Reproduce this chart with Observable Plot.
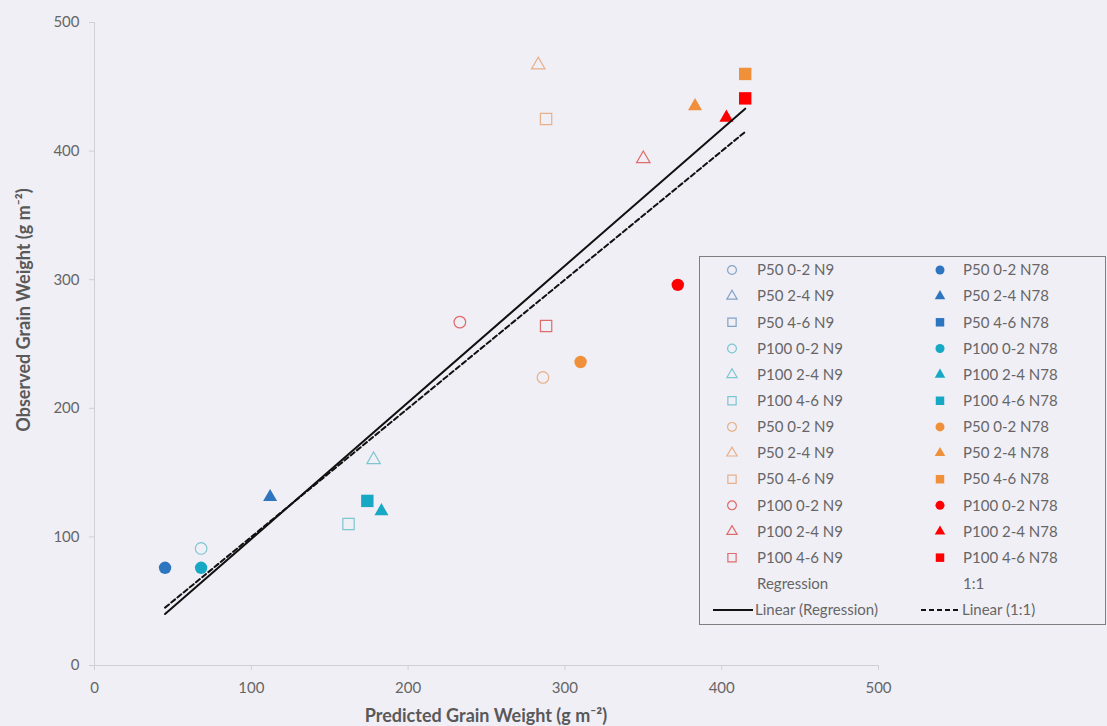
<!DOCTYPE html>
<html><head><meta charset="utf-8">
<script src="https://cdn.jsdelivr.net/npm/d3@7"></script>
<script src="https://cdn.jsdelivr.net/npm/@observablehq/plot@0.6"></script>
<style>
html,body{margin:0;padding:0;background:#f1eff6;}
#chart{width:1107px;height:726px;}
</style></head><body><div id="chart"></div>
<script>
// ---- data ----
const labelsN9 = ["P50 0-2 N9","P50 2-4 N9","P50 4-6 N9","P100 0-2 N9","P100 2-4 N9","P100 4-6 N9",
                  "P50 0-2 N9","P50 2-4 N9","P50 4-6 N9","P100 0-2 N9","P100 2-4 N9","P100 4-6 N9"];
const labelsN78 = ["P50 0-2 N78","P50 2-4 N78","P50 4-6 N78","P100 0-2 N78","P100 2-4 N78","P100 4-6 N78",
                   "P50 0-2 N78","P50 2-4 N78","P50 4-6 N78","P100 0-2 N78","P100 2-4 N78","P100 4-6 N78"];
const seriesColors = ["#2e75c0","#2e75c0","#2e75c0","#17a9c4","#17a9c4","#17a9c4",
                      "#f0903a","#f0903a","#f0903a","#ff0000","#ff0000","#ff0000"];
const openColors = ["#7fa3c8","#7fa3c8","#7fa3c8","#7cc6d2","#7cc6d2","#7cc6d2",
                    "#e6b08a","#e6b08a","#e6b08a","#e06b6b","#e06b6b","#e06b6b"];
const seriesShapes = ["circle","triangle","square","circle","triangle","square",
                      "circle","triangle","square","circle","triangle","square"];
const predictedN9 = [null,null,null,68,178,162,286,283,288,233,350,288];
const observedN9  = [null,null,null,91,160,110,224,467,425,267,394,264];
const predictedN78 = [45,112,null,68,183,174,310,383,415,372,403,415];
const observedN78  = [76,131,null,76,120,128,236,435,460,296,426,441];
const regressionX = [45,415], regressionY = [40,433];
const oneToOneX = [45,415], oneToOneY = [45,415];
const axisTicks = [0,100,200,300,400,500];
const xTitle = "Predicted Grain Weight (g m\u207B\u00B2)";
const yTitle = "Observed Grain Weight (g m\u207B\u00B2)";

// ---- build tables ----
const pts = [];
labelsN9.forEach((l,i)=>{ if(predictedN9[i]!=null) pts.push({x:predictedN9[i],y:observedN9[i],shape:seriesShapes[i],color:openColors[i],filled:false}); });
labelsN78.forEach((l,i)=>{ if(predictedN78[i]!=null) pts.push({x:predictedN78[i],y:observedN78[i],shape:seriesShapes[i],color:seriesColors[i],filled:true}); });
const reg = regressionX.map((x,i)=>({x,y:regressionY[i]}));
const one = oneToOneX.map((x,i)=>({x,y:oneToOneY[i]}));

const shapeR = {circle:6.2, triangle:5.2, square:7.0};
const openR = {circle:5.8, triangle:5.0, square:6.4};
const dotMarks = [];
for (const s of ["circle","triangle","square"]) {
  dotMarks.push(Plot.dot(pts.filter(d=>!d.filled && d.shape===s), {x:"x",y:"y",symbol:s,r:openR[s],fill:"none",stroke:d=>d.color,strokeWidth:1.2}));
  dotMarks.push(Plot.dot(pts.filter(d=>d.filled && d.shape===s), {x:"x",y:"y",symbol:s,r:shapeR[s],fill:d=>d.color,stroke:"none"}));
}

const chart = Plot.plot({
  width:1107, height:726,
  marginLeft:94, marginRight:229, marginTop:22, marginBottom:61,
  style:{background:"#f1eff6", fontFamily:"Lato, 'Open Sans', sans-serif", fontSize:"15px"},
  x:{domain:[0,500]},
  y:{domain:[0,500]},
  color:{type:"identity"},
  marks:[
    Plot.ruleX([0],{stroke:"#cfcfd4"}),
    Plot.ruleY([0],{stroke:"#cfcfd4"}),
    Plot.axisX({ticks:axisTicks, tickSize:5, tickPadding:12, stroke:"#cfcfd4", fill:"#666", label:null, fontSize:15}),
    Plot.axisY({ticks:axisTicks, tickSize:5, tickPadding:10, stroke:"#cfcfd4", fill:"#666", label:null, fontSize:15}),
    ...dotMarks,
    Plot.line(one,{x:"x",y:"y",stroke:"#111",strokeWidth:2,strokeDasharray:"5,3"}),
    Plot.line(reg,{x:"x",y:"y",stroke:"#111",strokeWidth:2})
  ]
});
document.getElementById("chart").appendChild(chart);

// ---- titles & legend ----
const svg = d3.select(chart);
svg.append("text").attr("x",486).attr("y",722).attr("text-anchor","middle")
  .attr("font-size",18).attr("font-weight","bold").attr("fill","#595959").text(xTitle);
svg.append("text").attr("transform","translate(30,310) rotate(-90)").attr("text-anchor","middle")
  .attr("font-size",18).attr("font-weight","bold").attr("fill","#595959").text(yTitle);

const lg = svg.append("g").attr("font-size",15).attr("fill","#666").attr("text-anchor","start");
lg.append("rect").attr("x",699.5).attr("y",256.5).attr("width",406).attr("height",368)
  .attr("fill","#f1eff6").attr("stroke","#7f7f7f").attr("stroke-width",1);
const y0 = 270, dy = 26.15;
const symType = {circle:d3.symbolCircle, triangle:d3.symbolTriangle, square:d3.symbolSquare};
const symSize = {circle:64, triangle:48, square:72};
function row(col, i, label, shape, color, filled){
  const sx = col===0?732:940, tx = col===0?757:963, y = y0+i*dy;
  const g = lg.append("path").attr("d", d3.symbol(symType[shape], symSize[shape]*(filled?1:0.95))())
    .attr("transform",`translate(${sx},${y})`);
  if (filled) g.attr("fill",color); else g.attr("fill","none").attr("stroke",color).attr("stroke-width",1.2);
  lg.append("text").attr("x",tx).attr("y",y).attr("dy","0.35em").text(label);
}
labelsN9.forEach((l,i)=>row(0,i,l,seriesShapes[i],openColors[i],false));
labelsN78.forEach((l,i)=>row(1,i,l,seriesShapes[i],seriesColors[i],true));
const yr = y0+12*dy, yl = y0+13*dy;
lg.append("text").attr("x",757).attr("y",yr).attr("dy","0.35em").text("Regression");
lg.append("text").attr("x",963).attr("y",yr).attr("dy","0.35em").text("1:1");
lg.append("line").attr("x1",713).attr("x2",753).attr("y1",yl).attr("y2",yl).attr("stroke","#111").attr("stroke-width",2);
lg.append("line").attr("x1",921).attr("x2",961).attr("y1",yl).attr("y2",yl).attr("stroke","#111").attr("stroke-width",2).attr("stroke-dasharray","5,3");
lg.append("text").attr("x",755).attr("y",yl).attr("dy","0.35em").text("Linear (Regression)");
lg.append("text").attr("x",962).attr("y",yl).attr("dy","0.35em").text("Linear (1:1)");
</script>
</body></html>
